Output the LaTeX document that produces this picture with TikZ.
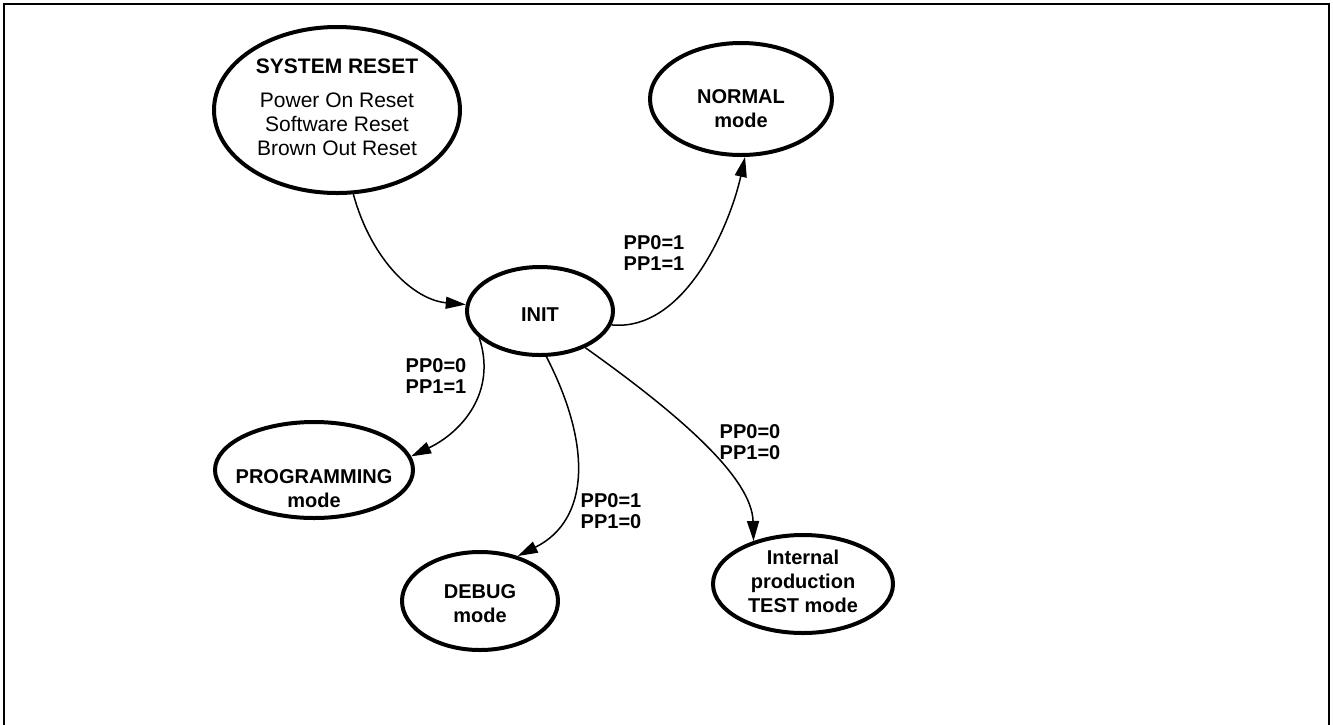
\documentclass[tikz,border=0pt]{standalone}
\usepackage{fontspec}
\setmainfont{Liberation Sans}
\usepackage{tikz}
\usetikzlibrary{arrows.meta, shapes.geometric}

\begin{document}
\begin{tikzpicture}[x=0.5pt, y=-0.5pt,
  st/.style={ellipse, draw, line width=2pt, inner sep=0pt},
  sttxt/.style={align=center, inner sep=0pt, font=\fontsize{10}{12}\selectfont\bfseries},
  cond/.style={align=left, inner sep=0pt, font=\fontsize{10}{10.5}\selectfont\bfseries},
  arr/.style={-{Triangle[length=10pt, width=6pt]}, line width=0.75pt},
  frame/.style={line width=1pt},
]
  \useasboundingbox (0,0) rectangle (1333,724);
  % ---- outer frame (bottom edge is cut off) ----
  \draw[frame] (4,740) -- (4,4) -- (1329,4) -- (1329,740);
  % ---- states ----
  \node[st, minimum width=123pt, minimum height=83pt] (sysreset) at (337,110) {};
  \node[align=center, inner sep=0pt, font=\fontsize{10.5}{12}\selectfont] (sysresettxt) at (337,107)
    {\textbf{SYSTEM RESET}\\[5pt] Power On Reset\\ Software Reset\\ Brown Out Reset};
  \node[st, minimum width=91pt, minimum height=56pt] (normal) at (741,99) {};
  \node[sttxt] (normaltxt) at (741,109) {NORMAL\\mode};
  \node[st, minimum width=73pt, minimum height=44pt] (init) at (540,311) {};
  \node[sttxt] (inittxt) at (540,315) {INIT};
  \node[st, minimum width=99pt, minimum height=48pt] (prog) at (314,470) {};
  \node[sttxt] (progtxt) at (314,489) {PROGRAMMING\\mode};
  \node[st, minimum width=78pt, minimum height=49pt] (debug) at (480,601) {};
  \node[sttxt] (debugtxt) at (480,604) {DEBUG\\mode};
  \node[st, minimum width=90pt, minimum height=49pt] (test) at (803,584) {};
  \node[sttxt] (testtxt) at (803,581) {Internal\\production\\TEST mode};
  % ---- transitions ----
  \draw[arr] (sysreset.281) .. controls (372,262) and (415,300) .. (init.175);
  \draw[arr] (init.349) .. controls (685,332) and (730,225) .. (normal.274);
  \draw[arr] (init.204) .. controls (497,392) and (462,432) .. (prog.8);
  \draw[arr] (init.278) .. controls (592,445) and (590,520) .. (debug.50);
  \draw[arr] (init.321) .. controls (680,415) and (752,478) .. (test.139);
  % ---- pin conditions ----
  \node[cond] (lblnormal) at (654,253) {PP0=1\\PP1=1};
  \node[cond] (lblprog)   at (436,376) {PP0=0\\PP1=1};
  \node[cond] (lbldebug)  at (611,511) {PP0=1\\PP1=0};
  \node[cond] (lbltest)   at (750,442) {PP0=0\\PP1=0};
\end{tikzpicture}
\end{document}
